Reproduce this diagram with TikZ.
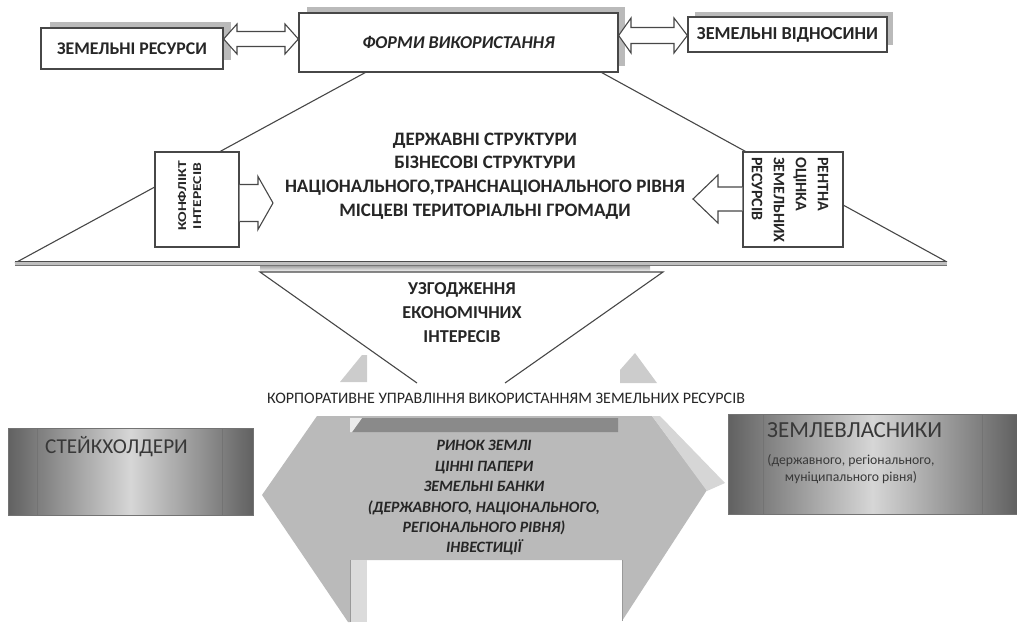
\documentclass[tikz,border=0pt]{standalone}
\usepackage{fontspec}
\setmainfont{Carlito}
\usetikzlibrary{calc}
\begin{document}
\begin{tikzpicture}[x=1pt,y=-1pt,
  lncol/.style={draw=black!72, line width=1.1pt},
  boxst/.style={draw=black!72, line width=1.3pt, fill=white, inner sep=0pt, text=black!85},
  shd/.style={fill=black!27},
  blockln/.style={draw=black!72, line width=1.1pt, line join=miter},
  txt/.style={text=black!85, inner sep=0pt, align=center},
  metal/.style={draw=black!55, line width=0.8pt, inner sep=0pt, left color=black!62, right color=black!62, middle color=black!16},
]
\useasboundingbox (0,0) rectangle (1017,623);

% big triangle
\draw[lncol] (15,263) -- (484,8) -- (947,262);
% baseline of the triangle
\fill[black!25] (15,261) rectangle (947,265.5);
\draw[black!70, line width=1.3pt] (15,261.2) -- (947,261.2);
\draw[black!55, line width=0.8pt] (15,265) -- (947,265);
% funnel
\shade[top color=black!35, bottom color=white] (260,266) rectangle (650,272);
\draw[lncol] (417,383) -- (260,272) -- (663,272) -- (505,383);

% shadows of the top boxes
\fill[shd] (50,22) rectangle (231,60);
\fill[shd] (307,7) rectangle (625,66);
\fill[shd] (695,12) rectangle (893,45);

% top boxes
\node[boxst, minimum width=182pt, minimum height=41pt, font=\fontsize{17.8}{20}\selectfont\bfseries] (res) at (132,48.5) {ЗЕМЕЛЬНІ РЕСУРСИ};
\node[boxst, minimum width=319pt, minimum height=59pt, font=\fontsize{18}{21}\selectfont\bfseries\itshape] (forms) at (458.5,42.5) {ФОРМИ ВИКОРИСТАННЯ};
\node[boxst, minimum width=199pt, minimum height=35pt, font=\fontsize{18.3}{20}\selectfont\bfseries] (rel) at (787.5,34.5) {ЗЕМЕЛЬНІ ВІДНОСИНИ};

% double block arrows between the top boxes
\draw[blockln, fill=white] (res.east |- 0,39) -- (237,24) -- (237,31.5) -- (285,31.5) -- (285,24) -- (forms.west |- 0,39) -- (285,54) -- (285,46.5) -- (237,46.5) -- (237,54) -- cycle;
\draw[blockln, fill=white] (forms.east |- 0,35.5) -- (631,18) -- (631,27.5) -- (674,27.5) -- (674,18) -- (rel.west |- 0,35.5) -- (674,53) -- (674,43.5) -- (631,43.5) -- (631,53) -- cycle;

% side boxes
\node[boxst, line width=1.1pt, minimum width=84pt, minimum height=95pt] (conf) at (197,199.5) {};
\node[boxst, line width=1.1pt, minimum width=100pt, minimum height=95pt] (rent) at (793,199.5) {};
\node[txt, rotate=90, font=\fontsize{12}{15}\selectfont\bfseries] (conftxt) at (189.5,196) {\scalebox{1.3}[1]{КОНФЛІКТ}\\\scalebox{1.3}[1]{ІНТЕРЕСІВ}};
\node[txt, rotate=-90, anchor=west, align=left, font=\fontsize{16}{22}\selectfont\bfseries] (renttxt) at (790,157) {РЕНТНА\\ОЦІНКА\\ЗЕМЕЛЬНИХ\\РЕСУРСІВ};

% block arrows from the side boxes
\fill[white] (conf.east |- 0,184.5) -- (258,184.5) -- (258,176.5) -- (273,203) -- (258,229.5) -- (258,221.5) -- (conf.east |- 0,221.5) -- cycle;
\draw[blockln] (conf.east |- 0,184.5) -- (258,184.5) -- (258,176.5) -- (273,203) -- (258,229.5) -- (258,221.5) -- (conf.east |- 0,221.5);
\fill[white] (rent.west |- 0,187) -- (718,187) -- (718,175) -- (693,199) -- (718,223) -- (718,211) -- (rent.west |- 0,211) -- cycle;
\draw[blockln] (rent.west |- 0,187) -- (718,187) -- (718,175) -- (693,199) -- (718,223) -- (718,211) -- (rent.west |- 0,211);

% central texts
\node[txt, font=\fontsize{19}{23.7}\selectfont\bfseries] (actors) at (485,176) {ДЕРЖАВНІ СТРУКТУРИ\\БІЗНЕСОВІ СТРУКТУРИ\\НАЦІОНАЛЬНОГО,ТРАНСНАЦІОНАЛЬНОГО РІВНЯ\\МІСЦЕВІ ТЕРИТОРІАЛЬНІ ГРОМАДИ};
\node[txt, font=\fontsize{18.2}{24}\selectfont\bfseries] (agree) at (462,313) {УЗГОДЖЕННЯ\\ЕКОНОМІЧНИХ\\ІНТЕРЕСІВ};

% small grey pieces above the big arrow
\fill[black!20] (362,355) -- (367,355) -- (367,382) -- (340,382) -- cycle;
\fill[black!20] (620,370) -- (635,353) -- (657,383) -- (620,383) -- cycle;

\node[txt, font=\fontsize{16}{18}\selectfont] (corp) at (506,398) {КОРПОРАТИВНЕ УПРАВЛІННЯ ВИКОРИСТАННЯМ ЗЕМЕЛЬНИХ РЕСУРСІВ};

% big double block arrow
\fill[black!27] (262,495) -- (317,416) -- (652,416) -- (707,490) -- (622,621) -- (622,560) -- (350,560) -- (350,622) -- (348,622) -- cycle;
\fill[black!16] (652,416) -- (660,416) -- (725,483) -- (707,491) -- cycle;
\fill[black!14] (350,560) -- (367,560) -- (367,622) -- (350,622) -- cycle;
\draw[black!40, line width=0.6pt] (350,560) -- (350,622) (622,560) -- (622,621);
\fill[black!46] (362,418) -- (618,418) -- (618,432) -- (352,432) -- cycle;
\fill[black!8] (350,418) -- (362,418) -- (352,432) -- (350,432) -- cycle;
\node[txt, font=\fontsize{15.8}{20.4}\selectfont\bfseries\itshape] (market) at (484,498) {РИНОК ЗЕМЛІ\\ЦІННІ ПАПЕРИ\\ЗЕМЕЛЬНІ БАНКИ\\(ДЕРЖАВНОГО, НАЦІОНАЛЬНОГО,\\РЕГІОНАЛЬНОГО РІВНЯ)\\ІНВЕСТИЦІЇ};

% metallic boxes
\node[metal, minimum width=245pt, minimum height=87pt] (stake) at (130.5,471.5) {};
\draw[black!55, line width=0.7pt] (37,428) -- (37,515) (222,428) -- (222,515);
\node[txt, anchor=base west, font=\fontsize{21.2}{24}\selectfont, text=black!78] (staketxt) at (45,453) {СТЕЙКХОЛДЕРИ};

\node[metal, minimum width=289pt, minimum height=100pt] (owners) at (872.5,464) {};
\draw[black!55, line width=0.7pt] (763,414) -- (763,514) (982,414) -- (982,514);
\node[txt, anchor=base west, font=\fontsize{23}{26}\selectfont, text=black!78] (ownerstxt) at (767,437) {ЗЕМЛЕВЛАСНИКИ};
\node[txt, font=\fontsize{13.7}{17}\selectfont, text=black!78] (ownerssub) at (851,469) {(державного, регіонального,\\муніципального рівня)};
\end{tikzpicture}
\end{document}
